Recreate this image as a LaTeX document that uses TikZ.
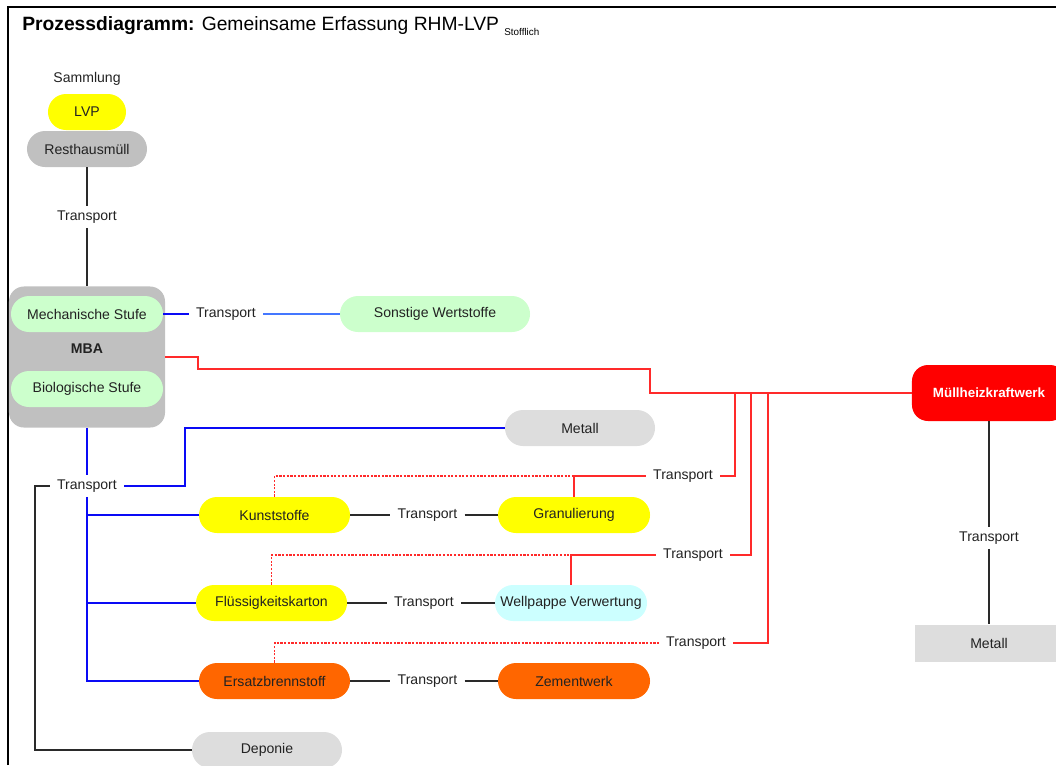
\documentclass[tikz,border=0pt]{standalone}
\usepackage{fontspec}
\setmainfont{Liberation Sans}
\usetikzlibrary{scopes}
\definecolor{gelb}{HTML}{FFFF00}
\definecolor{grau}{HTML}{C0C0C0}
\definecolor{hellgrau}{HTML}{DDDDDD}
\definecolor{gruen}{HTML}{CCFFCC}
\definecolor{tuerkis}{HTML}{CCFFFF}
\definecolor{orange}{HTML}{FF6600}
\definecolor{rot}{HTML}{FF0000}
\definecolor{linierot}{HTML}{FF2A2A}
\definecolor{blau}{HTML}{0A0AF5}
\definecolor{hellblau}{HTML}{4477FF}
\definecolor{schrift}{HTML}{222222}
\definecolor{linie}{HTML}{2A2A2A}
\tikzset{
	pill/.style={rounded corners=0.45cm, minimum height=0.9cm, inner sep=0pt, font=\fontsize{10}{12}\selectfont, text=schrift},
	lbl/.style={inner xsep=5pt, inner ysep=3pt, font=\fontsize{10}{12}\selectfont, text=schrift},
	schwarz/.style={draw=linie, line width=1.4pt},
	blaulinie/.style={draw=blau, line width=1.3pt},
	rotlinie/.style={draw=linierot, line width=1.3pt},
	rotpunkt/.style={draw=linierot, line width=1.3pt, dash pattern=on 1.6pt off 1pt}
}
\begin{document}
\begin{tikzpicture}[x=0.025cm, y=-0.025cm]
		\useasboundingbox (0,0) rectangle (1056,765);
		\clip (0,0) rectangle (1056,765);
		\draw[line width=1.6pt] (8,765) -- (8,7) -- (1056,7);
		\node[anchor=base west, inner sep=0pt, font=\fontsize{13.7}{16}\selectfont] (titel) at (22,30) {\textbf{Prozessdiagramm:} Gemeinsame Erfassung RHM-LVP \raisebox{-4pt}{\fontsize{7}{8}\selectfont Stofflich}};
		\node[lbl] (samml) at (87,79) {Sammlung};
		\node[pill, fill=gelb, minimum width=1.95cm] (lvp) at (87,112) {LVP};
		\node[pill, fill=grau, minimum width=3cm] (rest) at (87,149) {Resthausmüll};
		\node[lbl] (t1) at (87,217) {Transport};
		\node[fill=grau, rounded corners=0.375cm, minimum width=3.9cm, minimum height=3.525cm] (mba) at (87,357) {};
		\node[pill, fill=gruen, minimum width=3.8cm] (mech) at (87,314) {Mechanische Stufe};
		\node[font=\fontsize{10}{12}\selectfont\bfseries, text=schrift] (mbatext) at (87,349) {MBA};
		\node[pill, fill=gruen, minimum width=3.8cm] (bio) at (87,389) {Biologische Stufe};
		\node[lbl] (t2) at (226,314) {Transport};
		\node[pill, fill=gruen, minimum width=4.75cm] (sonst) at (435,314) {Sonstige Wertstoffe};
		\node[fill=rot, rounded corners=0.4cm, minimum width=3.85cm, minimum height=1.4cm, text=white, font=\fontsize{9.5}{12}\selectfont\bfseries] (mhkw) at (989,393) {Müllheizkraftwerk};
		\node[lbl] (t6) at (989,538) {Transport};
		\node[fill=hellgrau, minimum width=3.7cm, minimum height=0.925cm, font=\fontsize{10}{12}\selectfont, text=schrift] (metall2) at (989,643) {Metall};
		\node[pill, fill=hellgrau, minimum width=3.75cm] (metall1) at (580,428) {Metall};
		\node[lbl] (t7) at (87,486) {Transport};
		\node[pill, fill=gelb, minimum width=3.775cm] (kunst) at (274.5,515) {Kunststoffe};
		\node[lbl] (t8) at (427.5,515) {Transport};
		\node[pill, fill=gelb, minimum width=3.8cm] (granul) at (574,515) {Granulierung};
		\node[pill, fill=gelb, minimum width=3.775cm] (fluess) at (271.5,603) {Flüssigkeitskarton};
		\node[lbl] (t9) at (424,603) {Transport};
		\node[pill, fill=tuerkis, minimum width=3.8cm] (wellp) at (571,603) {Wellpappe Verwertung};
		\node[pill, fill=orange, minimum width=3.775cm] (ersatz) at (274.5,681) {Ersatzbrennstoff};
		\node[lbl] (t10) at (427.5,681) {Transport};
		\node[pill, fill=orange, minimum width=3.8cm] (zement) at (574,681) {Zementwerk};
		\node[pill, fill=hellgrau, minimum width=3.75cm] (depo) at (267,750) {Deponie};
		\node[lbl] (t3) at (683,476) {Transport};
		\node[lbl] (t4) at (693,555) {Transport};
		\node[lbl] (t5) at (696,643) {Transport};
		\draw[schwarz] (rest) -- (t1) -- (mba);
		\draw[blaulinie] (mech.east) -- (t2);
		\draw[draw=hellblau, line width=1.3pt] (t2) -- (sonst);
		\draw[rotlinie] (mba.east) -- (198,357) -- (198,369) -- (650,369) -- (650,393) -- (mhkw.west);
		\draw[rotlinie] (735,393) |- (t3.east);
		\draw[rotlinie] (751,393) |- (t4.east);
		\draw[rotlinie] (768,393) |- (t5.east);
		\draw[rotpunkt] (kunst.north) |- (granul.north |- t3.west);
		\draw[rotlinie] (granul.north) |- (t3.west);
		\draw[rotpunkt] (fluess.north) |- (wellp.north |- t4.west);
		\draw[rotlinie] (wellp.north) |- (t4.west);
		\draw[rotpunkt] (ersatz.north) |- (t5.west);
		\draw[schwarz] (mhkw.south) -- (t6) -- (metall2.north);
		\draw[blaulinie] (mba.south) -- (t7);
		\draw[blaulinie] (t7) |- (ersatz.west);
		\draw[blaulinie] (kunst.west -| t7) -- (kunst.west);
		\draw[blaulinie] (fluess.west -| t7) -- (fluess.west);
		\draw[blaulinie] (t7) -- (185,486) |- (metall1.west);
		\draw[schwarz] (t7.west) -- (35,486) |- (depo.west);
		\draw[schwarz] (kunst) -- (t8) -- (granul);
		\draw[schwarz] (fluess) -- (t9) -- (wellp);
		\draw[schwarz] (ersatz) -- (t10) -- (zement);
\end{tikzpicture}
\end{document}
